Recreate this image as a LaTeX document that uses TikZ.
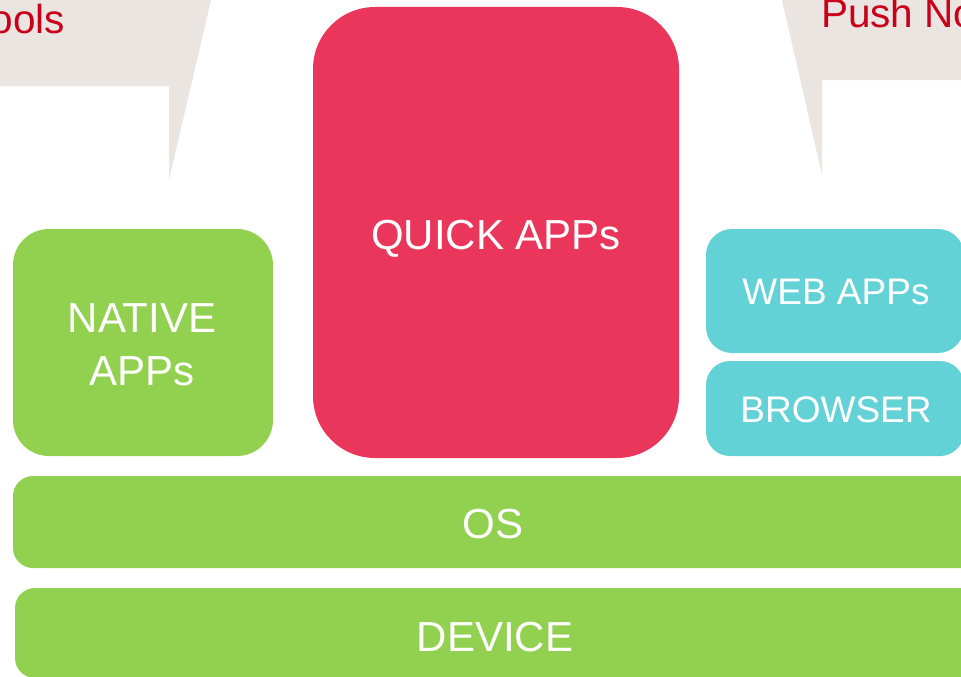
\documentclass[tikz,border=0pt]{standalone}
\usepackage{fontspec}
\setmainfont{Liberation Sans}
\definecolor{qred}{HTML}{E9365A}
\definecolor{lgreen}{HTML}{92D050}
\definecolor{lcyan}{HTML}{62D2D6}
\definecolor{beige}{HTML}{EBE5E2}
\definecolor{darkred}{HTML}{C8001A}
\begin{document}
\begin{tikzpicture}[x=1pt,y=-1pt,
  box/.style={rectangle, draw=none, inner sep=0pt},
  lbl/.style={text=white, font=\fontsize{42}{48}\selectfont, anchor=base, inner sep=0pt},
  slbl/.style={text=white, font=\fontsize{37}{44}\selectfont, anchor=base, inner sep=0pt},
  clbl/.style={text=darkred, font=\fontsize{40.5}{48}\selectfont, anchor=base, inner sep=0pt}]
\useasboundingbox (0,0) rectangle (961,677);
\begin{scope}
\clip (0,0) rectangle (961,677);
% callouts
\fill[beige] (-20,-20) -- (215.7,-20) -- (169,180) -- (169,86) -- (-20,86) -- cycle;
\fill[beige] (777.4,-20) -- (822,175) -- (822,80) -- (990,80) -- (990,-20) -- cycle;
\node[clbl, anchor=base east] (tools) at (65,34) {ools};
\node[clbl, anchor=base west] (push) at (821,28) {Push No};
% boxes
\node[box, fill=qred, rounded corners=62pt, minimum width=366pt, minimum height=451pt] (quick) at (496,232.5) {};
\node[box, fill=lgreen, rounded corners=36pt, minimum width=260pt, minimum height=227pt] (native) at (143,342.5) {};
\node[box, fill=lcyan, rounded corners=26pt, minimum width=258pt, minimum height=124pt] (web) at (835,291) {};
\node[box, fill=lcyan, rounded corners=24pt, minimum width=258pt, minimum height=95pt] (browser) at (835,408.5) {};
\node[box, fill=lgreen, rounded corners=20pt, minimum width=970pt, minimum height=92pt] (os) at (498,522) {};
\node[box, fill=lgreen, rounded corners=20pt, minimum width=970pt, minimum height=90pt] (device) at (500,633) {};
% labels
\node[lbl] (quicklbl) at (496,249) {QUICK APPs};
\node[lbl] (nat1) at (142,332) {NATIVE};
\node[lbl] (nat2) at (142,385) {APPs};
\node[slbl] (weblbl) at (836,304) {WEB APPs};
\node[slbl] (browserlbl) at (836,422) {BROWSER};
\node[lbl] (oslbl) at (493,538) {OS};
\node[lbl] (devicelbl) at (495,651) {DEVICE};
\end{scope}
\end{tikzpicture}
\end{document}
